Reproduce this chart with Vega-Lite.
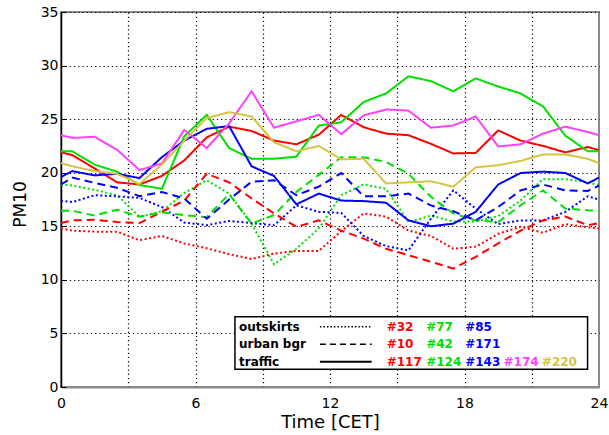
{
  "$schema": "https://vega.github.io/schema/vega-lite/v6.json",
  "width": 538,
  "height": 375,
  "autosize": {"type": "none"},
  "padding": {"left": 61, "top": 12, "right": 10, "bottom": 48},
  "background": "white",
  "config": {
    "view": {"stroke": "#8a8a8a", "strokeWidth": 2},
    "font": "DejaVu Sans"
  },
  "datasets": {
    "pm": [
      {"h": 0, "#32": 14.8, "#77": 18.9, "#85": 17.4, "#10": 15.3, "#42": 16.45, "#171": 18.9, "#117": 21.9, "#124": 22.0, "#143": 19.6, "#174": 23.5, "#220": 20.9},
      {"h": 0.5, "#32": 14.6, "#77": 18.8, "#85": 17.25, "#10": 15.55, "#42": 16.45, "#171": 19.55, "#117": 21.65, "#124": 22.0, "#143": 20.15, "#174": 23.25, "#220": 20.6},
      {"h": 1.5, "#32": 14.5, "#77": 18.4, "#85": 17.9, "#10": 15.6, "#42": 16.0, "#171": 19.05, "#117": 20.4, "#124": 20.75, "#143": 19.75, "#174": 23.35, "#220": 20.15},
      {"h": 2.5, "#32": 14.5, "#77": 17.9, "#85": 17.8, "#10": 15.4, "#42": 16.55, "#171": 18.6, "#117": 19.1, "#124": 20.1, "#143": 19.9, "#174": 22.15, "#220": 19.9},
      {"h": 3.5, "#32": 13.7, "#77": 15.9, "#85": 17.65, "#10": 15.3, "#42": 15.9, "#171": 17.8, "#117": 18.9, "#124": 18.85, "#143": 19.5, "#174": 20.25, "#220": 18.95},
      {"h": 4.5, "#32": 14.1, "#77": 16.4, "#85": 16.8, "#10": 16.35, "#42": 16.3, "#171": 18.2, "#117": 19.7, "#124": 18.5, "#143": 21.45, "#174": 20.85, "#220": 20.75},
      {"h": 5.5, "#32": 13.4, "#77": 18.1, "#85": 15.35, "#10": 17.4, "#42": 16.05, "#171": 17.6, "#117": 21.15, "#124": 23.4, "#143": 23.0, "#174": 24.0, "#220": 23.0},
      {"h": 6.5, "#32": 12.95, "#77": 19.3, "#85": 15.1, "#10": 19.9, "#42": 15.85, "#171": 15.7, "#117": 23.3, "#124": 25.4, "#143": 24.1, "#174": 22.3, "#220": 25.1},
      {"h": 7.5, "#32": 12.4, "#77": 18.05, "#85": 15.5, "#10": 19.1, "#42": 18.0, "#171": 17.5, "#117": 24.3, "#124": 22.3, "#143": 24.35, "#174": 24.6, "#220": 25.65},
      {"h": 8.5, "#32": 11.95, "#77": 15.25, "#85": 15.3, "#10": 17.6, "#42": 15.25, "#171": 19.15, "#117": 23.9, "#124": 21.3, "#143": 20.6, "#174": 27.6, "#220": 25.25},
      {"h": 9.5, "#32": 12.45, "#77": 11.45, "#85": 15.1, "#10": 16.2, "#42": 16.05, "#171": 19.3, "#117": 23.0, "#124": 21.3, "#143": 19.7, "#174": 24.2, "#220": 22.85},
      {"h": 10.5, "#32": 12.7, "#77": 12.9, "#85": 16.95, "#10": 14.95, "#42": 18.2, "#171": 17.9, "#117": 22.65, "#124": 21.5, "#143": 17.05, "#174": 24.8, "#220": 22.0},
      {"h": 11.5, "#32": 12.7, "#77": 14.8, "#85": 16.35, "#10": 15.55, "#42": 19.8, "#171": 18.7, "#117": 23.55, "#124": 24.4, "#143": 18.05, "#174": 25.4, "#220": 22.5},
      {"h": 12.5, "#32": 14.55, "#77": 17.9, "#85": 16.25, "#10": 14.6, "#42": 21.45, "#171": 19.97, "#117": 25.4, "#124": 24.7, "#143": 17.4, "#174": 23.6, "#220": 21.25},
      {"h": 13.5, "#32": 16.2, "#77": 18.9, "#85": 14.1, "#10": 13.85, "#42": 21.45, "#171": 17.8, "#117": 24.25, "#124": 26.6, "#143": 17.35, "#174": 25.35, "#220": 21.3},
      {"h": 14.5, "#32": 15.9, "#77": 18.5, "#85": 13.15, "#10": 12.9, "#42": 21.0, "#171": 17.8, "#117": 23.65, "#124": 27.4, "#143": 17.2, "#174": 25.9, "#220": 19.0},
      {"h": 15.5, "#32": 14.6, "#77": 15.4, "#85": 12.75, "#10": 12.3, "#42": 19.9, "#171": 18.05, "#117": 23.5, "#124": 29.0, "#143": 15.55, "#174": 25.8, "#220": 19.1},
      {"h": 16.5, "#32": 14.1, "#77": 16.0, "#85": 15.7, "#10": 11.7, "#42": 17.75, "#171": 16.95, "#117": 22.7, "#124": 28.55, "#143": 15.0, "#174": 24.2, "#220": 19.2},
      {"h": 17.5, "#32": 12.9, "#77": 15.45, "#85": 18.35, "#10": 11.05, "#42": 16.2, "#171": 16.4, "#117": 21.8, "#124": 27.6, "#143": 15.25, "#174": 24.4, "#220": 18.7},
      {"h": 18.5, "#32": 13.1, "#77": 15.45, "#85": 16.65, "#10": 12.15, "#42": 15.55, "#171": 15.55, "#117": 21.85, "#124": 28.8, "#143": 16.35, "#174": 25.25, "#220": 20.5},
      {"h": 19.5, "#32": 14.3, "#77": 15.95, "#85": 15.2, "#10": 13.4, "#42": 15.4, "#171": 16.8, "#117": 23.95, "#124": 28.05, "#143": 18.9, "#174": 22.45, "#220": 20.7},
      {"h": 20.5, "#32": 14.95, "#77": 17.4, "#85": 15.55, "#10": 14.6, "#42": 16.95, "#171": 18.35, "#117": 23.0, "#124": 27.4, "#143": 19.97, "#174": 22.65, "#220": 21.1},
      {"h": 21.5, "#32": 14.4, "#77": 19.4, "#85": 15.55, "#10": 15.55, "#42": 18.35, "#171": 18.9, "#117": 22.5, "#124": 26.2, "#143": 20.1, "#174": 23.65, "#220": 21.7},
      {"h": 22.5, "#32": 15.2, "#77": 19.4, "#85": 16.35, "#10": 15.9, "#42": 16.65, "#171": 18.35, "#117": 21.9, "#124": 23.45, "#143": 19.97, "#174": 24.3, "#220": 21.7},
      {"h": 23.5, "#32": 14.9, "#77": 19.1, "#85": 17.8, "#10": 15.1, "#42": 16.5, "#171": 18.3, "#117": 22.4, "#124": 22.0, "#143": 19.0, "#174": 23.8, "#220": 21.3},
      {"h": 24, "#32": 14.8, "#77": 18.85, "#85": 17.5, "#10": 15.3, "#42": 16.45, "#171": 18.8, "#117": 22.1, "#124": 22.0, "#143": 19.55, "#174": 23.5, "#220": 20.9}
    ]
  },
  "layer": [
    {
      "data": {"name": "pm"},
      "transform": [
        {"fold": ["#32", "#77", "#85", "#10", "#42", "#171", "#117", "#124", "#143", "#174", "#220"], "as": ["station", "pm"]}
      ],
      "mark": {"type": "line", "strokeWidth": 2},
      "encoding": {
        "x": {
          "field": "h", "type": "quantitative",
          "scale": {"domain": [0, 24], "nice": false, "zero": false},
          "axis": {
            "values": [0, 3, 6, 9, 12, 15, 18, 21, 24],
            "labelExpr": "datum.value % 6 === 0 ? datum.label : ''",
            "title": "Time [CET]",
            "titleFont": "DejaVu Sans", "titleFontSize": 18, "titleFontWeight": "normal", "titleColor": "black",
            "titleBaseline": "middle", "titleY": 35,
            "labelFont": "DejaVu Sans", "labelFontSize": 14, "labelColor": "black", "labelPadding": 9,
            "labelFlush": false, "labelOverlap": false,
            "ticks": false,
            "domainColor": "#8a8a8a", "domainWidth": 2,
            "grid": true, "gridColor": "black", "gridDash": [1.2, 3], "gridWidth": 1.2,
            "gridOpacity": {"condition": {"test": "datum.value === 0 || datum.value === 24", "value": 0}, "value": 1}
          }
        },
        "y": {
          "field": "pm", "type": "quantitative",
          "scale": {"domain": [0, 35], "nice": false, "zero": false},
          "axis": {
            "values": [0, 2.5, 5, 7.5, 10, 12.5, 15, 17.5, 20, 22.5, 25, 27.5, 30, 32.5, 35],
            "labelExpr": "datum.value % 5 === 0 ? datum.label : ''",
            "title": "PM10",
            "titleFont": "DejaVu Sans", "titleFontSize": 17, "titleFontWeight": "normal", "titleColor": "black",
            "titleAngle": 270, "titleAlign": "center", "titleBaseline": "middle", "titleX": -41, "titleY": 192,
            "labelFont": "DejaVu Sans", "labelFontSize": 14, "labelColor": "black", "labelPadding": 8,
            "labelFlush": false, "labelOverlap": false,
            "tickColor": "black", "tickSize": -5, "tickWidth": 1,
            "domainColor": "black", "domainWidth": 1.5,
            "grid": true, "gridColor": "black", "gridDash": [1.2, 3], "gridWidth": 1.2,
            "gridOpacity": {"condition": {"test": "datum.value % 5 === 0 && datum.value > 0", "value": 1}, "value": 0}
          }
        },
        "color": {
          "field": "station", "type": "nominal", "legend": null,
          "scale": {
            "domain": ["#32", "#77", "#85", "#10", "#42", "#171", "#117", "#124", "#143", "#174", "#220"],
            "range": ["#ff0000", "#00e000", "#0000ff", "#ff0000", "#00e000", "#0000ff", "#ff0000", "#00e000", "#0000ff", "#ff40ff", "#d4c443"]
          }
        },
        "strokeDash": {
          "field": "station", "type": "nominal", "legend": null,
          "scale": {
            "domain": ["#32", "#77", "#85", "#10", "#42", "#171", "#117", "#124", "#143", "#174", "#220"],
            "range": [[2, 2.5], [2, 2.5], [2, 2.5], [8, 5], [8, 5], [8, 5], [1, 0], [1, 0], [1, 0], [1, 0], [1, 0]]
          }
        }
      }
    },
    {
      "data": {"values": [{}]},
      "mark": {"type": "rect", "fill": "white", "stroke": "black", "strokeWidth": 1.5},
      "encoding": {"x": {"datum": 7.76}, "x2": {"datum": 23.49}, "y": {"datum": 6.55}, "y2": {"datum": 1.65}}
    },
    {
      "data": {"values": [{}]},
      "mark": {"type": "text", "text": "outskirts", "align": "left", "baseline": "middle", "fontSize": 12, "fontWeight": "bold", "color": "black"},
      "encoding": {"x": {"datum": 7.94}, "y": {"datum": 5.62}}
    },
    {
      "data": {"values": [{}]},
      "mark": {"type": "text", "text": "urban bgr", "align": "left", "baseline": "middle", "fontSize": 12, "fontWeight": "bold", "color": "black"},
      "encoding": {"x": {"datum": 7.94}, "y": {"datum": 3.98}}
    },
    {
      "data": {"values": [{}]},
      "mark": {"type": "text", "text": "traffic", "align": "left", "baseline": "middle", "fontSize": 12, "fontWeight": "bold", "color": "black"},
      "encoding": {"x": {"datum": 7.94}, "y": {"datum": 2.36}}
    },
    {
      "data": {"values": [{}]},
      "mark": {"type": "rule", "color": "black", "strokeWidth": 1.5, "strokeDash": [1.5, 2]},
      "encoding": {"x": {"datum": 11.55}, "x2": {"datum": 13.86}, "y": {"datum": 5.62}}
    },
    {
      "data": {"values": [{}]},
      "mark": {"type": "rule", "color": "black", "strokeWidth": 1.5, "strokeDash": [6, 4]},
      "encoding": {"x": {"datum": 11.55}, "x2": {"datum": 13.86}, "y": {"datum": 3.98}}
    },
    {
      "data": {"values": [{}]},
      "mark": {"type": "rule", "color": "black", "strokeWidth": 2},
      "encoding": {"x": {"datum": 11.55}, "x2": {"datum": 13.86}, "y": {"datum": 2.36}}
    },
    {
      "data": {"values": [{}]},
      "mark": {"type": "text", "text": "#32", "align": "left", "baseline": "middle", "fontSize": 12, "fontWeight": "bold", "color": "#ff0000"},
      "encoding": {"x": {"datum": 14.53}, "y": {"datum": 5.62}}
    },
    {
      "data": {"values": [{}]},
      "mark": {"type": "text", "text": "#77", "align": "left", "baseline": "middle", "fontSize": 12, "fontWeight": "bold", "color": "#00e000"},
      "encoding": {"x": {"datum": 16.29}, "y": {"datum": 5.62}}
    },
    {
      "data": {"values": [{}]},
      "mark": {"type": "text", "text": "#85", "align": "left", "baseline": "middle", "fontSize": 12, "fontWeight": "bold", "color": "#0000ff"},
      "encoding": {"x": {"datum": 18.03}, "y": {"datum": 5.62}}
    },
    {
      "data": {"values": [{}]},
      "mark": {"type": "text", "text": "#10", "align": "left", "baseline": "middle", "fontSize": 12, "fontWeight": "bold", "color": "#ff0000"},
      "encoding": {"x": {"datum": 14.53}, "y": {"datum": 3.98}}
    },
    {
      "data": {"values": [{}]},
      "mark": {"type": "text", "text": "#42", "align": "left", "baseline": "middle", "fontSize": 12, "fontWeight": "bold", "color": "#00e000"},
      "encoding": {"x": {"datum": 16.29}, "y": {"datum": 3.98}}
    },
    {
      "data": {"values": [{}]},
      "mark": {"type": "text", "text": "#171", "align": "left", "baseline": "middle", "fontSize": 12, "fontWeight": "bold", "color": "#0000ff"},
      "encoding": {"x": {"datum": 18.03}, "y": {"datum": 3.98}}
    },
    {
      "data": {"values": [{}]},
      "mark": {"type": "text", "text": "#117", "align": "left", "baseline": "middle", "fontSize": 12, "fontWeight": "bold", "color": "#ff0000"},
      "encoding": {"x": {"datum": 14.53}, "y": {"datum": 2.36}}
    },
    {
      "data": {"values": [{}]},
      "mark": {"type": "text", "text": "#124", "align": "left", "baseline": "middle", "fontSize": 12, "fontWeight": "bold", "color": "#00e000"},
      "encoding": {"x": {"datum": 16.29}, "y": {"datum": 2.36}}
    },
    {
      "data": {"values": [{}]},
      "mark": {"type": "text", "text": "#143", "align": "left", "baseline": "middle", "fontSize": 12, "fontWeight": "bold", "color": "#0000ff"},
      "encoding": {"x": {"datum": 18.03}, "y": {"datum": 2.36}}
    },
    {
      "data": {"values": [{}]},
      "mark": {"type": "text", "text": "#174", "align": "left", "baseline": "middle", "fontSize": 12, "fontWeight": "bold", "color": "#ff40ff"},
      "encoding": {"x": {"datum": 19.74}, "y": {"datum": 2.36}}
    },
    {
      "data": {"values": [{}]},
      "mark": {"type": "text", "text": "#220", "align": "left", "baseline": "middle", "fontSize": 12, "fontWeight": "bold", "color": "#d4c443"},
      "encoding": {"x": {"datum": 21.45}, "y": {"datum": 2.36}}
    }
  ]
}
